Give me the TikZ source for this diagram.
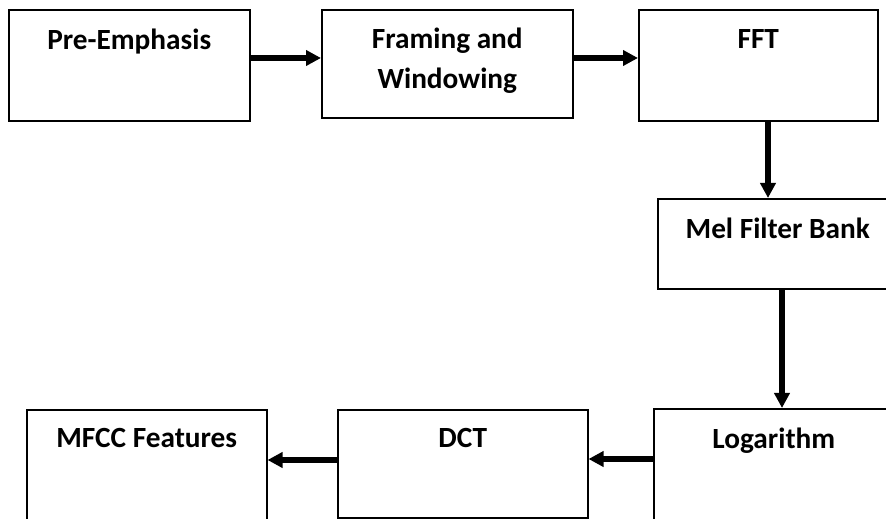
\documentclass[tikz,border=0pt]{standalone}
\usepackage{fontspec}
\setmainfont{Carlito}
\usetikzlibrary{arrows.meta}

\begin{document}
\begin{tikzpicture}[
    stage/.style={draw, line width=1.3pt, anchor=north west, inner ysep=0pt,
        font=\fontsize{25}{34}\selectfont\bfseries, align=center},
    flow/.style={line width=0.17cm, -{Triangle[length=0.45cm, width=0.45cm]}}
  ]
  \useasboundingbox (0,0) rectangle (26.58,-15.57);
  \node[stage, minimum width=7.23cm, text height=1.2cm, text depth=2.13cm] (pre) at (0.24,-0.27) {Pre-Emphasis};
  \node[stage, minimum width=7.53cm, text height=2.37cm, text depth=0.87cm] (frame) at (9.63,-0.27) {Framing and\\Windowing};
  \node[stage, minimum width=7.17cm, text height=1.17cm, text depth=2.16cm] (fft) at (19.14,-0.27) {FFT};
  \node[stage, minimum width=7.2cm, text height=1.2cm, text depth=1.5cm] (mel) at (19.71,-5.94) {Mel Filter Bank};
  \node[stage, minimum width=7.2cm, text height=1.2cm, text depth=2.5cm] (log) at (19.59,-12.24) {Logarithm};
  \node[stage, minimum width=7.5cm, text height=1.14cm, text depth=2.1cm] (dct) at (10.11,-12.27) {DCT};
  \node[stage, minimum width=7.2cm, text height=1.14cm, text depth=2.5cm] (mfcc) at (0.78,-12.27) {MFCC Features};
  \draw[flow] (pre.east |- 0,-1.74) -- (frame.west |- 0,-1.74);
  \draw[flow] (frame.east |- 0,-1.74) -- (fft.west |- 0,-1.74);
  \draw[flow] (fft.south -| 23.04,0) -- (mel.north -| 23.04,0);
  \draw[flow] (mel.south -| 23.46,0) -- (log.north -| 23.46,0);
  \draw[flow] (log.west |- 0,-13.77) -- (dct.east |- 0,-13.77);
  \draw[flow] (dct.west |- 0,-13.8) -- (mfcc.east |- 0,-13.8);
\end{tikzpicture}
\end{document}
